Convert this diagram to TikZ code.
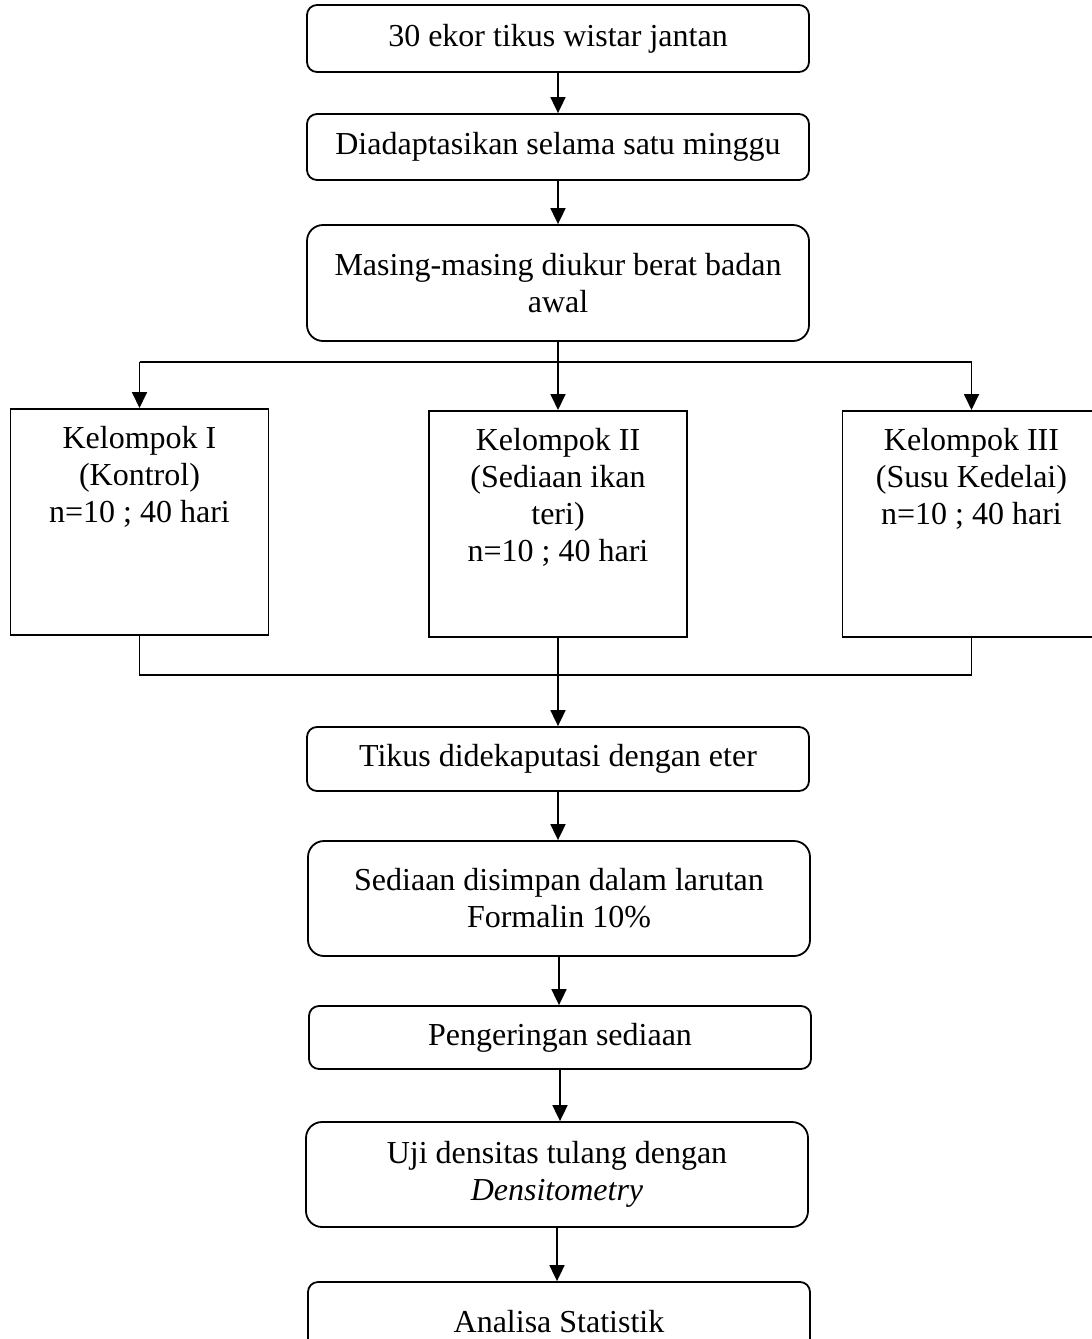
\documentclass[tikz,border=0pt]{standalone}
\usepackage{fontspec}
\setmainfont{Liberation Serif}
\usetikzlibrary{arrows.meta}

\newcommand{\grptext}[1]{\parbox[t][96pt][t]{125pt}{\centering #1}}

\begin{document}
\begin{tikzpicture}[x=0.5pt, y=-0.5pt, line width=0.9pt,
  every node/.style = {font=\fontsize{16}{18.5}\selectfont},
  proc/.style = {draw, rounded corners=5pt, minimum width=251pt, align=center, inner sep=0pt},
  tallproc/.style = {proc, rounded corners=8pt},
  grp/.style = {draw, anchor=north, inner xsep=2pt, inner ysep=8.5pt, minimum width=129pt},
  arr/.style = {-{Triangle[length=8pt, width=7.5pt]}},
  ]
  \path[use as bounding box, clip] (0,0) rectangle (1092,1339);

  % top part
  \node[proc, minimum height=33.5pt] (tikus) at (558,38.5) {30 ekor tikus wistar jantan};
  \node[proc, minimum height=33pt] (adaptasi) at (558,147) {Diadaptasikan selama satu minggu};
  \node[tallproc, minimum height=58pt] (ukur) at (558,283) {Masing-masing diukur berat badan\\awal};

  % groups
  \node[grp] (kel1) at (139.5,408) {\grptext{Kelompok I\\(Kontrol)\\n=10 ; 40 hari}};
  \node[grp] (kel2) at (558,410) {\grptext{Kelompok II\\(Sediaan ikan\\teri)\\n=10 ; 40 hari}};
  \node[grp] (kel3) at (971.5,410) {\grptext{Kelompok III\\(Susu Kedelai)\\n=10 ; 40 hari}};
  \coordinate (split) at (558,362);
  \coordinate (join) at (558,675);

  % bottom part
  \node[proc, minimum height=32pt] (dekap) at (558,759) {Tikus didekaputasi dengan eter};
  \node[tallproc, minimum height=57.5pt] (simpan) at (559,898.5) {Sediaan disimpan dalam larutan\\Formalin 10\%};
  \node[proc, minimum height=31.5pt] (kering) at (560,1037.5) {Pengeringan sediaan};
  \node[tallproc, minimum height=52.5pt] (uji) at (557,1174.5) {Uji densitas tulang dengan\\\textit{Densitometry}};
  \node[proc, minimum height=40pt] (analisa) at (559,1322) {Analisa Statistik};

  \draw[arr] (tikus) -- (tikus |- adaptasi.north);
  \draw[arr] (adaptasi) -- (adaptasi |- ukur.north);
  \draw[arr] (ukur) -- (kel2);
  \draw (split -| kel1) -- (split -| kel3);
  \draw[arr] (split -| kel1) -- (kel1);
  \draw[arr] (split -| kel3) -- (kel3);
  \draw (kel1) -- (join -| kel1) -- (join -| kel3) -- (kel3);
  \draw[arr] (kel2) -- (kel2 |- dekap.north);
  \draw[arr] (dekap) -- (dekap |- simpan.north);
  \draw[arr] (simpan) -- (simpan |- kering.north);
  \draw[arr] (kering) -- (kering |- uji.north);
  \draw[arr] (uji) -- (uji |- analisa.north);
\end{tikzpicture}
\end{document}
